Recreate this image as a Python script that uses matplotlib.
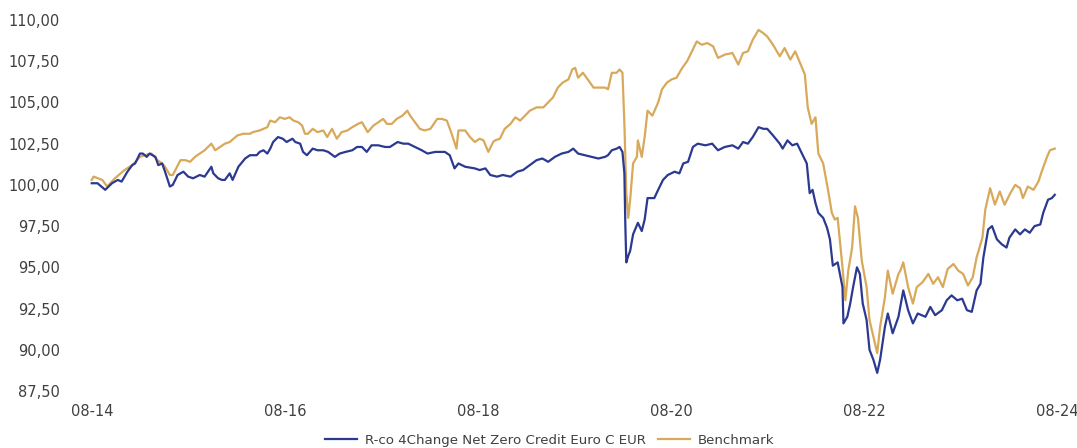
import matplotlib
matplotlib.use("Agg")
import matplotlib.pyplot as plt
from matplotlib.ticker import FuncFormatter, FixedLocator

# decimal-year dates and values
fund_t = [2014.58, 2014.64, 2014.72, 2014.79, 2014.85, 2014.89, 2014.95, 2015.00, 2015.03, 2015.08,
          2015.11, 2015.15, 2015.18, 2015.24, 2015.27, 2015.31, 2015.34, 2015.39, 2015.42, 2015.47,
          2015.53, 2015.58, 2015.63, 2015.70, 2015.75, 2015.82, 2015.84, 2015.89, 2015.93, 2015.96,
          2016.01, 2016.04, 2016.10, 2016.17, 2016.22, 2016.29, 2016.32, 2016.36, 2016.40, 2016.43,
          2016.46, 2016.51, 2016.56, 2016.60, 2016.66, 2016.69, 2016.74, 2016.77, 2016.81, 2016.87,
          2016.92, 2016.98, 2017.03, 2017.10, 2017.15, 2017.21, 2017.28, 2017.33, 2017.38, 2017.43,
          2017.48, 2017.55, 2017.62, 2017.67, 2017.75, 2017.81, 2017.86, 2017.93, 2018.00, 2018.06,
          2018.14, 2018.24, 2018.29, 2018.34, 2018.38, 2018.45, 2018.55, 2018.60, 2018.66, 2018.71,
          2018.78, 2018.84, 2018.92, 2018.99, 2019.05, 2019.12, 2019.19, 2019.25, 2019.31, 2019.38,
          2019.45, 2019.52, 2019.57, 2019.62, 2019.69, 2019.76, 2019.83, 2019.90, 2019.93, 2019.97,
          2020.02, 2020.05, 2020.08, 2020.10, 2020.11, 2020.12, 2020.14, 2020.16, 2020.19, 2020.24,
          2020.28, 2020.31, 2020.34, 2020.41, 2020.45, 2020.50, 2020.55, 2020.62, 2020.67, 2020.71,
          2020.76, 2020.81, 2020.86, 2020.94, 2021.01, 2021.07, 2021.14, 2021.22, 2021.28, 2021.33,
          2021.38, 2021.43, 2021.49, 2021.54, 2021.58, 2021.64, 2021.71, 2021.74, 2021.79, 2021.84,
          2021.89, 2021.94, 2021.99, 2022.02, 2022.05, 2022.08, 2022.11, 2022.16, 2022.20, 2022.23,
          2022.26, 2022.31, 2022.36, 2022.37, 2022.41, 2022.44, 2022.47, 2022.51, 2022.54, 2022.57,
          2022.61, 2022.64, 2022.68, 2022.72, 2022.75, 2022.80, 2022.83, 2022.88, 2022.94, 2022.99,
          2023.04, 2023.09, 2023.14, 2023.22, 2023.27, 2023.32, 2023.39, 2023.44, 2023.49, 2023.55,
          2023.60, 2023.65, 2023.70, 2023.75, 2023.79, 2023.82, 2023.87, 2023.91, 2023.96, 2024.01,
          2024.06, 2024.09, 2024.15, 2024.20, 2024.25, 2024.30, 2024.35, 2024.41, 2024.44, 2024.49,
          2024.53, 2024.56]
fund_v = [100.1, 100.1, 99.7, 100.1, 100.3, 100.2, 100.8, 101.2, 101.3, 101.9,
          101.9, 101.7, 101.9, 101.7, 101.2, 101.3, 100.8, 99.9, 100.0, 100.6,
          100.8, 100.5, 100.4, 100.6, 100.5, 101.1, 100.7, 100.4, 100.3, 100.3,
          100.7, 100.3, 101.1, 101.6, 101.8, 101.8, 102.0, 102.1, 101.9, 102.2,
          102.6, 102.9, 102.8, 102.6, 102.8, 102.6, 102.5, 102.0, 101.8, 102.2,
          102.1, 102.1, 102.0, 101.7, 101.9, 102.0, 102.1, 102.3, 102.3, 102.0,
          102.4, 102.4, 102.3, 102.3, 102.6, 102.5, 102.5, 102.3, 102.1, 101.9,
          102.0, 102.0, 101.8, 101.0, 101.3, 101.1, 101.0, 100.9, 101.0, 100.6,
          100.5, 100.6, 100.5, 100.8, 100.9, 101.2, 101.5, 101.6, 101.4, 101.7,
          101.9, 102.0, 102.2, 101.9, 101.8, 101.7, 101.6, 101.7, 101.8, 102.1,
          102.2, 102.3, 102.0, 100.7, 97.5, 95.3, 95.7, 96.0, 97.0, 97.7,
          97.2, 97.9, 99.2, 99.2, 99.7, 100.3, 100.6, 100.8, 100.7, 101.3,
          101.4, 102.3, 102.5, 102.4, 102.5, 102.1, 102.3, 102.4, 102.2, 102.6,
          102.5, 102.9, 103.5, 103.4, 103.4, 103.0, 102.5, 102.2, 102.7, 102.4,
          102.5, 101.9, 101.3, 99.5, 99.7, 98.9, 98.3, 98.0, 97.4, 96.7,
          95.1, 95.3, 93.8, 91.6, 92.0, 92.8, 93.8, 95.0, 94.6, 92.8,
          91.8, 90.0, 89.4, 88.6, 89.4, 91.4, 92.2, 91.0, 92.0, 93.6,
          92.4, 91.6, 92.2, 92.0, 92.6, 92.1, 92.4, 93.0, 93.3, 93.0,
          93.1, 92.4, 92.3, 93.6, 94.0, 95.6, 97.3, 97.5, 96.7, 96.4,
          96.2, 96.8, 97.3, 97.0, 97.3, 97.1, 97.5, 97.6, 98.3, 99.1,
          99.2, 99.4]

bench_t = [2014.58, 2014.60, 2014.69, 2014.74, 2014.82, 2014.92, 2015.00, 2015.08, 2015.13, 2015.20,
           2015.26, 2015.31, 2015.34, 2015.39, 2015.42, 2015.50, 2015.55, 2015.60, 2015.65, 2015.70,
           2015.75, 2015.82, 2015.86, 2015.91, 2015.96, 2016.01, 2016.09, 2016.15, 2016.22, 2016.25,
           2016.32, 2016.40, 2016.43, 2016.48, 2016.53, 2016.58, 2016.63, 2016.67, 2016.72, 2016.76,
           2016.79, 2016.82, 2016.87, 2016.92, 2016.98, 2017.02, 2017.07, 2017.12, 2017.17, 2017.23,
           2017.28, 2017.34, 2017.38, 2017.44, 2017.50, 2017.55, 2017.60, 2017.64, 2017.69, 2017.74,
           2017.80, 2017.85, 2017.88, 2017.93, 2017.98, 2018.03, 2018.09, 2018.16, 2018.21, 2018.26,
           2018.31, 2018.36, 2018.38, 2018.45, 2018.50, 2018.55, 2018.60, 2018.64, 2018.69, 2018.74,
           2018.76, 2018.81, 2018.86, 2018.92, 2018.97, 2019.02, 2019.07, 2019.12, 2019.19, 2019.26,
           2019.31, 2019.36, 2019.41, 2019.46, 2019.52, 2019.56, 2019.59, 2019.62, 2019.67, 2019.72,
           2019.78, 2019.85, 2019.90, 2019.93, 2019.97, 2020.02, 2020.05, 2020.08, 2020.10, 2020.12,
           2020.14, 2020.16, 2020.19, 2020.23, 2020.24, 2020.28, 2020.31, 2020.34, 2020.39, 2020.45,
           2020.49, 2020.54, 2020.59, 2020.64, 2020.70, 2020.75, 2020.80, 2020.85, 2020.90, 2020.96,
           2021.02, 2021.07, 2021.14, 2021.22, 2021.28, 2021.33, 2021.38, 2021.43, 2021.49, 2021.54,
           2021.58, 2021.64, 2021.71, 2021.76, 2021.82, 2021.87, 2021.92, 2021.97, 2022.00, 2022.04,
           2022.08, 2022.11, 2022.16, 2022.21, 2022.25, 2022.28, 2022.31, 2022.36, 2022.39, 2022.42,
           2022.46, 2022.49, 2022.52, 2022.56, 2022.61, 2022.64, 2022.68, 2022.72, 2022.75, 2022.80,
           2022.83, 2022.88, 2022.94, 2022.96, 2022.99, 2023.04, 2023.09, 2023.13, 2023.19, 2023.25,
           2023.30, 2023.35, 2023.40, 2023.45, 2023.51, 2023.56, 2023.61, 2023.66, 2023.71, 2023.75,
           2023.81, 2023.84, 2023.89, 2023.94, 2023.99, 2024.04, 2024.10, 2024.15, 2024.20, 2024.23,
           2024.28, 2024.34, 2024.39, 2024.43, 2024.48, 2024.51, 2024.56]
bench_v = [100.3, 100.5, 100.3, 99.9, 100.4, 100.9, 101.2, 101.7, 101.8, 101.9,
           101.5, 101.3, 101.1, 100.6, 100.6, 101.5, 101.5, 101.4, 101.7, 101.9,
           102.1, 102.5, 102.1, 102.3, 102.5, 102.6, 103.0, 103.1, 103.1, 103.2,
           103.3, 103.5, 103.9, 103.8, 104.1, 104.0, 104.1, 103.9, 103.8, 103.6,
           103.1, 103.1, 103.4, 103.2, 103.3, 102.9, 103.4, 102.8, 103.2, 103.3,
           103.5, 103.7, 103.8, 103.2, 103.6, 103.8, 104.0, 103.7, 103.7, 104.0,
           104.2, 104.5, 104.2, 103.8, 103.4, 103.3, 103.4, 104.0, 104.0, 103.9,
           103.1, 102.2, 103.3, 103.3, 102.9, 102.6, 102.8, 102.7, 102.0, 102.6,
           102.7, 102.8, 103.4, 103.7, 104.1, 103.9, 104.2, 104.5, 104.7, 104.7,
           105.0, 105.3, 105.9, 106.2, 106.4, 107.0, 107.1, 106.5, 106.8, 106.4,
           105.9, 105.9, 105.9, 105.8, 106.8, 106.8, 107.0, 106.8, 103.7, 99.5,
           98.0, 99.1, 101.3, 101.7, 102.7, 101.7, 102.9, 104.5, 104.2, 105.0,
           105.8, 106.2, 106.4, 106.5, 107.1, 107.5, 108.1, 108.7, 108.5, 108.6,
           108.4, 107.7, 107.9, 108.0, 107.3, 108.0, 108.1, 108.8, 109.4, 109.2,
           109.0, 108.5, 107.8, 108.3, 107.6, 108.1, 107.4, 106.7, 104.7, 103.7,
           104.1, 101.9, 101.3, 99.7, 98.3, 97.9, 98.0, 95.0, 93.0, 94.8,
           96.2, 98.7, 98.0, 95.4, 93.8, 91.8, 90.8, 89.8, 91.4, 93.2,
           94.8, 93.4, 94.6, 94.8, 95.3, 93.8, 92.8, 93.8, 94.1, 94.6,
           94.0, 94.4, 93.8, 94.9, 95.2, 94.8, 94.6, 93.9, 94.4, 95.6,
           96.8, 98.5, 99.8, 98.8, 99.6, 98.8, 99.5, 100.0, 99.8, 99.2,
           99.9, 99.7, 100.2, 100.9, 101.7, 102.1, 102.2]

x_ticks = [2014.583, 2016.583, 2018.583, 2020.583, 2022.583, 2024.583]
x_labels = ["08-14", "08-16", "08-18", "08-20", "08-22", "08-24"]
y_ticks = [87.5, 90.0, 92.5, 95.0, 97.5, 100.0, 102.5, 105.0, 107.5, 110.0]

fund_name = "R-co 4Change Net Zero Credit Euro C EUR"
bench_name = "Benchmark"

W, H = 1077, 448
fig = plt.figure(figsize=(W / 100, H / 100), dpi=100)
ax = fig.add_axes([92 / W, (H - 391) / H, 965 / W, 371 / H])

navy = "#2B3990"
gold = "#D8A95A"
text_col = "#404040"

ax.plot(fund_t, fund_v, color=navy, lw=1.6, label=fund_name, clip_on=False, zorder=3)
ax.plot(bench_t, bench_v, color=gold, lw=1.6, label=bench_name, clip_on=False, zorder=2)

ax.set_xlim(x_ticks[0], x_ticks[-1])
ax.set_ylim(87.5, 110)
ax.xaxis.set_major_locator(FixedLocator(x_ticks))
ax.set_xticklabels(x_labels)
ax.yaxis.set_major_locator(FixedLocator(y_ticks))
ax.yaxis.set_major_formatter(FuncFormatter(lambda v, p: f"{v:.2f}".replace(".", ",")))

for s in ax.spines.values():
    s.set_visible(False)
ax.tick_params(axis="both", length=0, labelsize=10.5, colors=text_col)
ax.tick_params(axis="y", pad=23)
ax.tick_params(axis="x", pad=9)

leg = fig.legend(loc="center", bbox_to_anchor=(550 / W, 1 - 440 / H), ncol=2,
                 frameon=False, fontsize=9.6, handlelength=2.4, columnspacing=0.9,
                 handletextpad=0.6)
for t in leg.get_texts():
    t.set_color(text_col)

fig.savefig("out.png", dpi=100)
